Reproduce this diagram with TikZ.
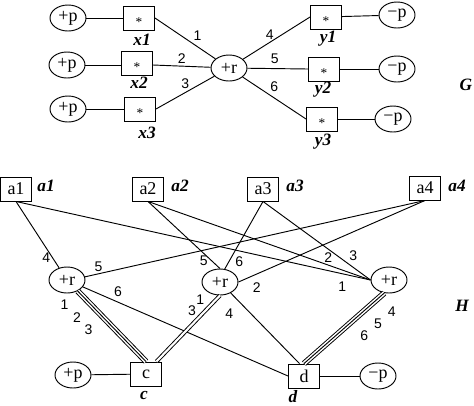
\documentclass[tikz,border=0pt]{standalone}
\usepackage{fontspec}
\setmainfont{Liberation Serif}
\setsansfont{Liberation Sans}
\usetikzlibrary{shapes,calc}

\begin{document}
\begin{tikzpicture}[
  x=0.75pt, y=-0.75pt,
  line width=0.7pt,
  port/.style={ellipse, draw, minimum width=27pt, minimum height=19.5pt, inner sep=0pt, font=\fontsize{13.5}{13.5}\selectfont},
  box/.style={rectangle, draw, minimum width=23.25pt, minimum height=18pt, inner sep=0pt, font=\fontsize{13.5}{13.5}\selectfont},
  starbox/.style={box, font=\fontsize{10}{10}\selectfont},
  tag/.style={font=\bfseries\itshape\fontsize{13}{13}\selectfont},
  num/.style={font=\sffamily\fontsize{10.5}{10.5}\selectfont, inner sep=1.5pt},
  dbl/.style={double, double distance=1.6pt},
  trpl/.style={double, double distance=3pt}
]
\useasboundingbox (0,0) rectangle (474,405);

% Graph G
\node[port] (gp1) at (68,18) {+p};
\node[port] (gp2) at (67,65) {+p};
\node[port] (gp3) at (68,109) {+p};
\node[starbox] (x1) at (139,18) {\raisebox{-6.5pt}[0pt][0pt]{*}};
\node[starbox] (x2) at (137,63) {\raisebox{-6.5pt}[0pt][0pt]{*}};
\node[starbox] (x3) at (140,109) {\raisebox{-6.5pt}[0pt][0pt]{*}};
\node[port] (gr) at (229,68) {+r};
\node[starbox] (y1) at (326,17) {\raisebox{-6.5pt}[0pt][0pt]{*}};
\node[starbox] (y2) at (324,69) {\raisebox{-6.5pt}[0pt][0pt]{*}};
\node[starbox] (y3) at (322,119) {\raisebox{-6.5pt}[0pt][0pt]{*}};
\node[port] (gm1) at (397,15) {−p};
\node[port] (gm2) at (397,69) {−p};
\node[port] (gm3) at (393,119) {−p};
\node[tag] (x1tag) at (142,40) {x1};
\node[tag] (x2tag) at (139,83) {x2};
\node[tag] (x3tag) at (147,133) {x3};
\node[tag] (y1tag) at (328,39) {y1};
\node[tag] (y2tag) at (323,90) {y2};
\node[tag] (y3tag) at (323,142) {y3};
\node[tag] (gtag) at (466,85) {G};

\draw (gp1) -- (x1);
\draw (gp2) -- (gp2 -| x2.west);
\draw (gp3) -- (x3);
\draw (x1.east) -- node[num, pos=.6, above right]{1} (gr);
\draw (x2.east |- gp2) -- node[num, pos=.5, above]{2} (gr);
\draw (x3.east) -- node[num, pos=.5, above=1pt]{3} (gr);
\draw (gr) -- node[num, pos=.4, above]{4} (y1.west);
\draw (gr) -- node[num, pos=.45, above=2pt]{5} (y2.west);
\draw (gr) -- node[num, pos=.4, above right]{6} (y3.west);
\draw (y1) -- (gm1);
\draw (y2) -- (gm2);
\draw (y3) -- (gm3);

% Graph H
\node[box] (a1) at (16,189) {a1};
\node[box] (a2) at (148,189) {a2};
\node[box] (a3) at (263,189) {a3};
\node[box] (a4) at (425,188) {a4};
\node[port] (r1) at (67,280) {+r};
\node[port] (r2) at (220,282) {+r};
\node[port] (r3) at (389,280) {+r};
\node[box] (c) at (146,374) {c};
\node[box] (d) at (304,376) {d};
\node[port] (hp) at (73,375) {+p};
\node[port] (hm) at (378,376) {−p};
\node[tag] (a1tag) at (46,186) {a1};
\node[tag] (a2tag) at (180,186) {a2};
\node[tag] (a3tag) at (295,186) {a3};
\node[tag] (a4tag) at (457,186) {a4};
\node[tag] (ctag) at (144,395) {c};
\node[tag] (dtag) at (293,397) {d};
\node[tag] (htag) at (462,306) {H};

\draw (a1.south) -- node[num, pos=.85, left]{4} (r1);
\draw (a1.south) -- node[num, pos=.92, below=4pt]{1} (r3.west);
\draw (a2.south) -- node[num, pos=.88, left=1pt]{5} (r2.north);
\draw (a2.south) -- node[num, pos=.81, above]{2} (r3.west);
\draw (a3.south) -- node[num, pos=.89, right=3pt]{6} (r2.70);
\draw (a3.south) -- node[num, pos=.78, above right]{3} (r3.west);
\draw (r1.10) -- node[num, pos=.04, above]{5} (a4.south);
\draw (r2.east) -- node[num, pos=.05, below right=2pt]{2} (a4.south);
\draw (r1) -- node[num, pos=.14, above right]{6} (d.west);
\draw (r2) -- node[num, pos=.13, below left=3pt]{4} (d.110);

% multiple edges
\draw[trpl] (r1) -- (c.north);
\draw (r1) -- node[num, pos=0, below left=5pt]{1}
  node[num, pos=.18, below left=5pt]{2}
  node[num, pos=.35, below left=5pt]{3} (c.north);
\draw[dbl] (r2.south) -- node[num, pos=.19, above left=1pt]{1}
  node[num, pos=.34, above left]{3} (c.50);
\draw[trpl] (r3.250) -- (d.north);
\draw (r3.250) -- node[num, pos=.07, below right=5pt]{4}
  node[num, pos=.24, below right=5pt]{5}
  node[num, pos=.41, below right=5pt]{6} (d.north);

\draw (hp) -- (c);
\draw (d) -- (hm);

\end{tikzpicture}
\end{document}
